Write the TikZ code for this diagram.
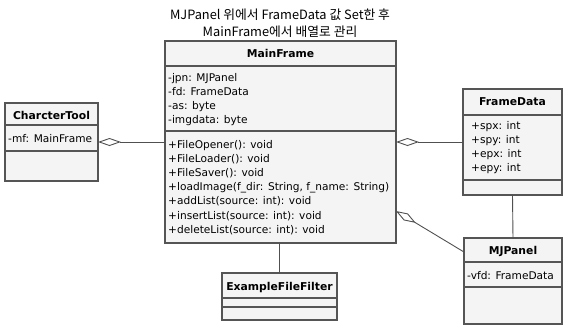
\documentclass[tikz,border=0pt]{standalone}
\usepackage{fontspec}
\setmainfont{DejaVu Sans}
\newfontfamily\krfont{Noto Sans CJK KR}
\usetikzlibrary{arrows.meta,calc}
\definecolor{boxline}{HTML}{555555}
\definecolor{boxfill}{HTML}{F4F4F4}
\definecolor{connline}{HTML}{505050}
\begin{document}
\begin{tikzpicture}[x=1pt,y=-1pt,
  classbox/.style={draw=boxline, line width=1.1pt, fill=boxfill, anchor=north west,
    inner sep=0pt, outer sep=0pt},
  sep/.style={draw=boxline, line width=1.1pt},
  cname/.style={anchor=base, font=\fontsize{10.8}{12}\selectfont\bfseries, inner sep=0pt},
  member/.style={anchor=base west, font=\fontsize{10.6}{12}\selectfont, inner sep=0pt},
  conn/.style={draw=connline, line width=0.9pt},
  aggr/.style={conn, -{Diamond[open, length=23pt, width=8pt, line width=0.9pt]}},
  title/.style={anchor=base, font=\krfont\fontsize{12.8}{14}\selectfont, inner sep=0pt}
]
\useasboundingbox[fill=white] (0,0) rectangle (563,325);

% title
\node[title] (t1) at (280,19) {MJPanel 위에서 FrameData 값 Set한 후};
\node[title] (t2) at (280,36) {MainFrame에서 배열로 관리};

% MainFrame
\node[classbox, minimum width=231pt, minimum height=202pt] (mf) at (165,41) {};
\draw[sep] ($(mf.north west)+(0,25)$) -- ($(mf.north east)+(0,25)$);
\draw[sep] ($(mf.north west)+(0,90)$) -- ($(mf.north east)+(0,90)$);
\node[cname] (mfn) at (280.5,57.5) {MainFrame};
\foreach \t [count=\i from 0] in {-jpn: MJPanel, -fd: FrameData, -as: byte, -imgdata: byte}
  \node[member] (mfa\i) at (168,81+14.3*\i) {\t};
\foreach \t [count=\i from 0] in {+FileOpener(): void, +FileLoader(): void, +FileSaver(): void,
    {+loadImage(f\_dir: String, f\_name: String)}, +addList(source: int): void,
    +insertList(source: int): void, +deleteList(source: int): void}
  \node[member] (mfm\i) at (168,148+14.2*\i) {\t};

% CharcterTool
\node[classbox, minimum width=93pt, minimum height=78pt] (ct) at (5,103) {};
\draw[sep] ($(ct.north west)+(0,22)$) -- ($(ct.north east)+(0,22)$);
\draw[sep] ($(ct.north west)+(0,48)$) -- ($(ct.north east)+(0,48)$);
\node[cname] (ctn) at (51.5,119) {CharcterTool};
\node[member] (cta0) at (8,142) {-mf: MainFrame};

% FrameData
\node[classbox, minimum width=99pt, minimum height=106pt] (fd) at (463,89) {};
\draw[sep] ($(fd.north west)+(0,26)$) -- ($(fd.north east)+(0,26)$);
\draw[sep] ($(fd.north west)+(0,91)$) -- ($(fd.north east)+(0,91)$);
\node[cname] (fdn) at (512.5,105.5) {FrameData};
\foreach \t [count=\i from 0] in {+spx: int, +spy: int, +epx: int, +epy: int}
  \node[member] (fda\i) at (471,129+14.3*\i) {\t};

% MJPanel
\node[classbox, minimum width=98pt, minimum height=86pt] (mj) at (464,238) {};
\draw[sep] ($(mj.north west)+(0,24)$) -- ($(mj.north east)+(0,24)$);
\draw[sep] ($(mj.north west)+(0,49)$) -- ($(mj.north east)+(0,49)$);
\node[cname] (mjn) at (513,254.5) {MJPanel};
\node[member] (mja0) at (467,279) {-vfd: FrameData};

% ExampleFileFilter
\node[classbox, minimum width=115pt, minimum height=47pt] (ef) at (222,273) {};
\draw[sep] ($(ef.north west)+(0,25)$) -- ($(ef.north east)+(0,25)$);
\draw[sep] ($(ef.north west)+(0,34)$) -- ($(ef.north east)+(0,34)$);
\node[cname] (efn) at (279.5,290) {ExampleFileFilter};

% relations
\draw[aggr] (mf.west |- ct.east) -- (ct.east);
\draw[aggr] (fd.west) -- (mf.east |- fd.west);
\draw[aggr] ($(mj.north west)+(0,14)$) -- ($(mf.north east)+(0,170)$);
\draw[conn] (fd.south) -- (mj.north);
\draw[conn] (mf.south -| ef.north) -- (ef.north);
\end{tikzpicture}
\end{document}
